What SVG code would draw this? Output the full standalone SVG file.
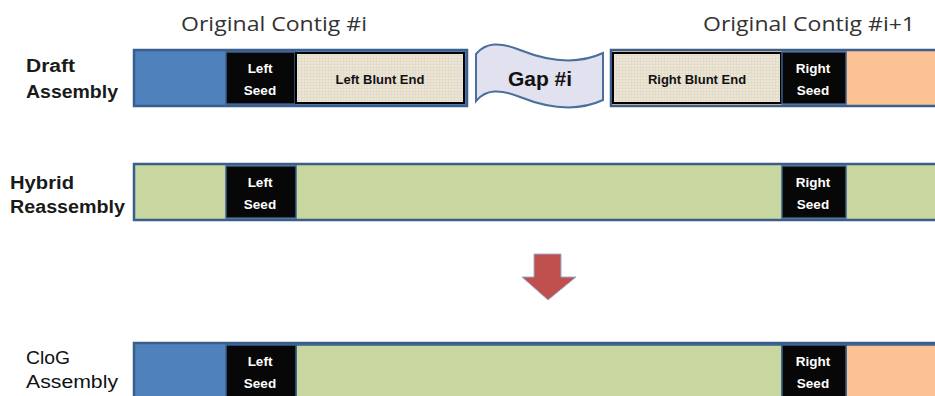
<svg xmlns="http://www.w3.org/2000/svg" width="935" height="396" viewBox="0 0 935 396">
<defs>
<pattern id="canvas" width="3" height="3" patternUnits="userSpaceOnUse">
<rect width="3" height="3" fill="#ece5d6"/>
<path d="M0 1.5H3M1.5 0V3" stroke="#ddd4c1" stroke-width="0.5"/>
</pattern>
<style>
.bar{stroke:#3b5f8c;stroke-width:2.5}
.seg{stroke:#3b5f8c;stroke-width:1.5}
.seed{fill:#070707;stroke:#3b5f8c;stroke-width:1.5}
.blunt{fill:url(#canvas);stroke:#000;stroke-width:2}
.blue{fill:#4f81bd}
.green{fill:#c8d7a0}
.orange{fill:#fbc393}
.lbl{font-family:"Liberation Sans",Arial,sans-serif;font-size:18px;font-weight:bold;fill:#1a1a1a}
.lbln{font-family:"Liberation Sans",Arial,sans-serif;font-size:18px;fill:#111}
.seedt{font-family:"Liberation Sans",Arial,sans-serif;font-size:13.5px;font-weight:bold;fill:#fff;text-anchor:middle}
.bt{font-family:"Liberation Sans",Arial,sans-serif;font-size:13px;font-weight:bold;fill:#111;text-anchor:middle}
.title{font-family:"Open Sans","Liberation Sans",sans-serif;font-size:20px;fill:#333}
</style>
</defs>
<rect width="935" height="396" fill="#fff"/>

<text class="title" x="181" y="31" textLength="186" lengthAdjust="spacingAndGlyphs">Original Contig #i</text>
<text class="title" x="703" y="31" textLength="212" lengthAdjust="spacingAndGlyphs">Original Contig #i+1</text>

<g id="label-draft">
<text class="lbl" x="26" y="72" textLength="49" lengthAdjust="spacingAndGlyphs">Draft</text>
<text class="lbl" x="26" y="98" textLength="92" lengthAdjust="spacingAndGlyphs">Assembly</text>
</g>
<g id="label-hybrid">
<text class="lbl" x="10" y="189" textLength="64" lengthAdjust="spacingAndGlyphs">Hybrid</text>
<text class="lbl" x="10" y="213" textLength="115" lengthAdjust="spacingAndGlyphs">Reassembly</text>
</g>
<g id="label-clog">
<text class="lbln" x="26" y="364" textLength="44" lengthAdjust="spacingAndGlyphs">CloG</text>
<text class="lbln" x="26" y="388" textLength="92" lengthAdjust="spacingAndGlyphs">Assembly</text>
</g>

<g id="draft-contig-i">
<rect class="bar blue" x="134" y="50" width="333" height="56"/>
<rect class="seed" x="226" y="52" width="69" height="52"/>
<text class="seedt" x="260" y="73">Left</text>
<text class="seedt" x="260" y="95">Seed</text>
<rect class="blunt" x="296" y="53" width="168" height="50"/>
<text class="bt" x="380" y="84">Left Blunt End</text>
</g>

<g id="gap">
<path d="M476 54 C486 42 500 42 520 50 C545 60 575 66 603 53 L603 100 C575 113 545 107 520 97 C500 89 486 89 476 101 Z" fill="#e1e1ef" stroke="#4a6f9c" stroke-width="2"/>
<text x="540" y="86" font-family="Liberation Sans,Arial,sans-serif" font-size="21" font-weight="bold" fill="#111" text-anchor="middle">Gap #i</text>
</g>

<g id="draft-contig-i1">
<rect class="bar orange" x="611" y="50" width="330" height="56"/>
<rect class="blunt" x="613" y="53" width="168" height="50"/>
<text class="bt" x="697" y="84">Right Blunt End</text>
<rect class="seed" x="782" y="52" width="64" height="52"/>
<text class="seedt" x="813" y="73">Right</text>
<text class="seedt" x="813" y="95">Seed</text>
</g>

<g id="hybrid">
<rect class="bar green" x="134" y="164" width="810" height="56"/>
<rect class="seed" x="226" y="166" width="70" height="52"/>
<text class="seedt" x="260" y="187">Left</text>
<text class="seedt" x="260" y="209">Seed</text>
<rect class="seed" x="782" y="166" width="64" height="52"/>
<text class="seedt" x="813" y="187">Right</text>
<text class="seedt" x="813" y="209">Seed</text>
</g>

<g id="connectors">
<path d="M534 254 H561 V277 H576 L548 300 L522 277 H534 Z" fill="#c0504d" stroke="#9aaed0" stroke-width="1"/>
</g>

<g id="clog">
<rect class="bar blue" x="134" y="343" width="810" height="60"/>
<rect class="seg green" x="296" y="345" width="486" height="60"/>
<rect class="seg orange" x="846" y="345" width="100" height="60"/>
<rect class="seed" x="226" y="345" width="70" height="60"/>
<text class="seedt" x="260" y="366">Left</text>
<text class="seedt" x="260" y="388">Seed</text>
<rect class="seed" x="782" y="345" width="64" height="60"/>
<text class="seedt" x="813" y="366">Right</text>
<text class="seedt" x="813" y="388">Seed</text>
</g>
</svg>
